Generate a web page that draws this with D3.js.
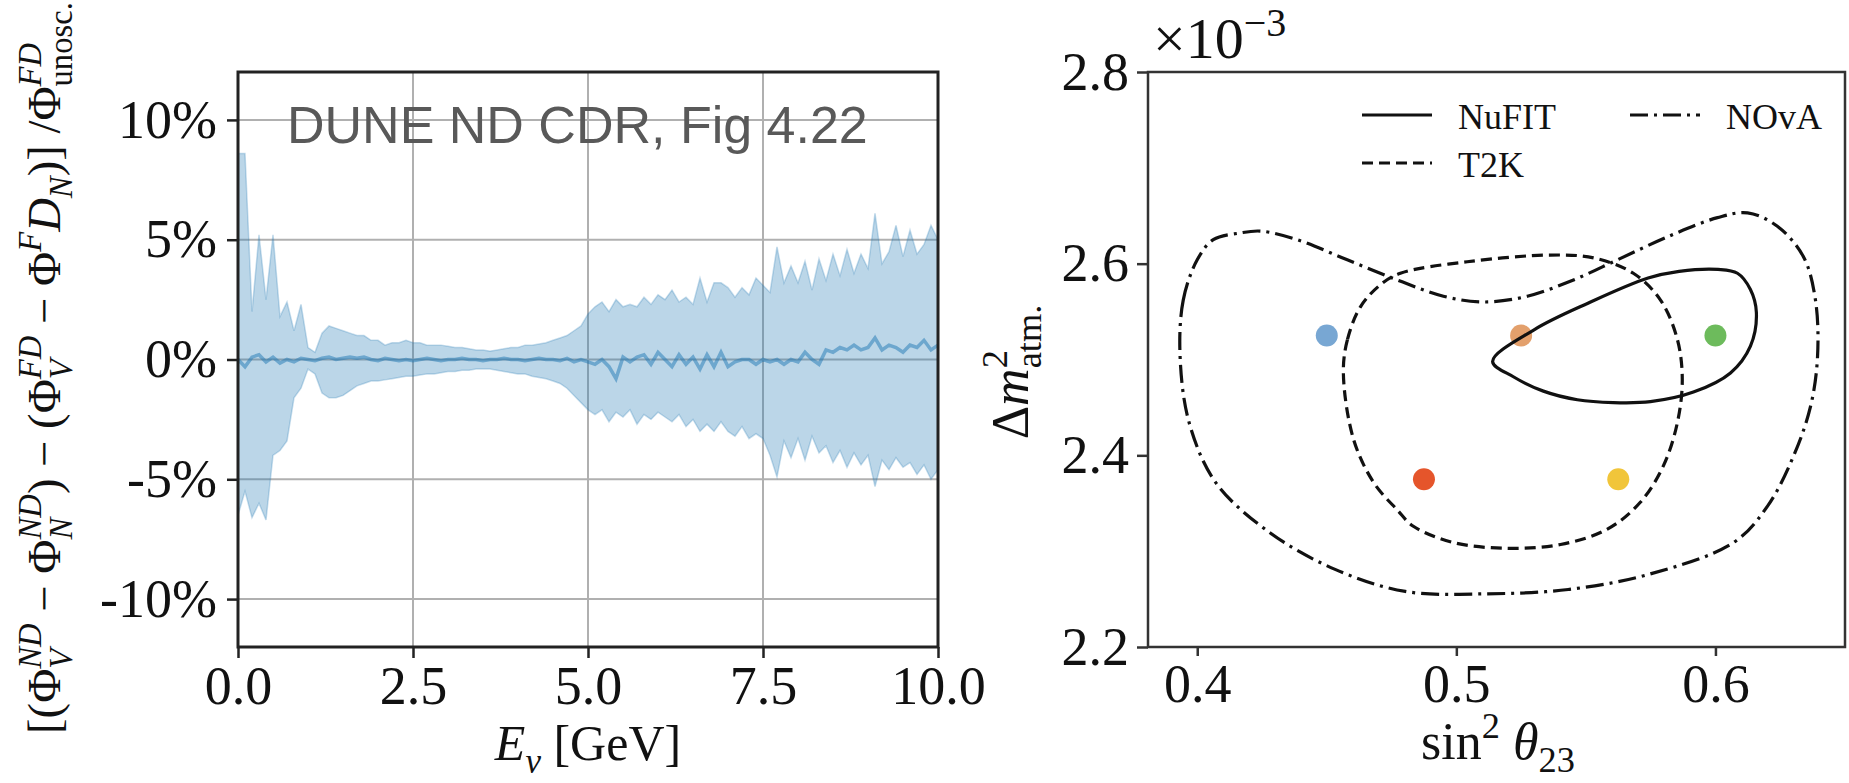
<!DOCTYPE html>
<html lang="en">
<head>
<meta charset="UTF-8">
<script src="https://d3js.org/d3.v7.min.js"></script>
<title>Flux shift and oscillation contours</title>
<style>
    body { margin: 0; padding: 0; background: white; }
    svg { display: block; }
    text { font-family: "Liberation Serif", "Times New Roman", serif; fill: #111; }
</style>
</head>
<body>
<svg id="fig" width="1849" height="783"></svg>
<script>
// ---- left panel data (percent) ----
const energy = [0.0,0.1,0.2,0.3,0.4,0.5,0.6,0.7,0.8,0.9,1.0,1.1,1.2,1.3,1.4,1.5,1.6,1.7,1.8,1.9,
    2.0,2.1,2.2,2.3,2.4,2.5,2.6,2.7,2.8,2.9,3.0,3.1,3.2,3.3,3.4,3.5,3.6,3.7,3.8,3.9,
    4.0,4.1,4.2,4.3,4.4,4.5,4.6,4.7,4.8,4.9,5.0,5.1,5.2,5.3,5.4,5.5,5.6,5.7,5.8,5.9,
    6.0,6.1,6.2,6.3,6.4,6.5,6.6,6.7,6.8,6.9,7.0,7.1,7.2,7.3,7.4,7.5,7.6,7.7,7.8,7.9,
    8.0,8.1,8.2,8.3,8.4,8.5,8.6,8.7,8.8,8.9,9.0,9.1,9.2,9.3,9.4,9.5,9.6,9.7,9.8,9.9,10.0];
const bandUpper = [8.6,8.6,2.0,5.2,2.5,5.2,1.8,2.4,1.2,2.3,0.5,0.3,1.1,1.4,1.3,1.2,1.1,1.0,1.0,0.8,
    0.8,0.6,0.7,0.7,0.8,0.7,0.7,0.6,0.6,0.6,0.55,0.5,0.5,0.45,0.4,0.4,0.35,0.4,0.45,0.5,
    0.5,0.6,0.6,0.65,0.7,0.8,0.9,1.0,1.2,1.4,1.9,2.2,2.4,2.0,2.5,2.2,2.3,2.2,2.6,2.3,
    2.7,2.5,2.9,2.4,2.6,2.3,3.4,2.4,3.2,3.2,3.0,2.6,3.0,2.7,3.4,3.1,2.8,4.7,3.2,3.9,
    3.2,4.1,2.9,4.2,3.3,4.4,3.5,4.6,3.6,4.4,3.8,6.1,4.0,4.5,5.6,4.3,5.4,4.4,4.8,5.6,5.0];
const bandLower = [-6.5,-5.5,-6.6,-6.0,-6.7,-4.0,-3.8,-3.4,-1.6,-1.2,-0.4,-0.6,-1.4,-1.6,-1.6,-1.5,-1.3,-1.1,-1.0,-0.9,
    -0.9,-0.85,-0.8,-0.75,-0.7,-0.7,-0.65,-0.6,-0.6,-0.55,-0.5,-0.5,-0.45,-0.45,-0.4,-0.4,-0.4,-0.45,-0.5,-0.55,
    -0.6,-0.6,-0.7,-0.75,-0.8,-0.9,-1.0,-1.2,-1.5,-1.8,-2.1,-2.3,-2.1,-2.6,-2.2,-2.4,-2.1,-2.7,-2.3,-2.5,
    -2.2,-2.4,-2.6,-2.3,-2.8,-2.5,-3.0,-2.7,-3.0,-2.6,-3.0,-3.2,-2.8,-3.3,-3.1,-3.3,-4.0,-4.9,-3.4,-4.1,
    -3.3,-4.2,-3.2,-3.9,-3.6,-4.3,-3.8,-4.5,-3.9,-4.4,-4.0,-5.3,-4.2,-4.6,-4.1,-4.5,-4.3,-4.8,-4.4,-5.0,-4.6];
const meanShift = [0.0,-0.3,0.1,0.2,-0.1,0.1,-0.15,0.0,-0.1,0.05,0.0,-0.05,0.05,0.1,0.0,0.05,0.1,0.05,0.1,0.0,
    -0.05,0.05,0.0,-0.05,0.0,-0.05,0.0,0.05,0.0,-0.05,0.0,0.0,0.05,0.0,0.0,-0.05,0.0,0.0,0.05,0.0,
    0.0,-0.05,0.0,0.05,0.0,0.0,-0.05,0.05,-0.1,0.0,-0.1,-0.2,0.0,-0.3,-0.8,0.1,-0.1,0.1,0.2,-0.2,
    0.3,0.0,-0.3,0.2,-0.2,0.1,-0.4,0.2,-0.3,0.3,-0.3,-0.1,0.0,0.0,-0.2,0.0,-0.1,0.0,-0.2,0.0,
    -0.1,0.3,0.0,-0.2,0.4,0.3,0.5,0.4,0.6,0.4,0.5,0.9,0.4,0.6,0.5,0.3,0.6,0.5,0.8,0.4,0.6];
const leftXTicks = [0, 2.5, 5, 7.5, 10];
const leftYTicks = [-10, -5, 0, 5, 10];

// ---- right panel data (sin^2 theta23, dm2 in 1e-3 eV^2) ----
const nufitContour = [[0.514,2.498],[0.530,2.531],[0.551,2.559],[0.574,2.585],[0.586,2.592],[0.601,2.594],
    [0.6085,2.590],[0.6135,2.573],[0.6158,2.549],[0.6135,2.514],[0.6058,2.486],[0.5915,2.466],[0.5749,2.456],
    [0.5606,2.455],[0.5467,2.458],[0.5336,2.467],[0.522,2.482]];
const t2kContour = [[0.4564,2.486],[0.458,2.521],[0.463,2.555],[0.4707,2.578],[0.4784,2.590],[0.5042,2.602],
    [0.5363,2.609],[0.553,2.606],[0.5683,2.590],[0.5788,2.562],[0.5853,2.521],[0.5872,2.479],[0.5853,2.434],
    [0.5799,2.389],[0.571,2.351],[0.5583,2.323],[0.5402,2.307],[0.5197,2.303],[0.4988,2.309],[0.4834,2.326],
    [0.4772,2.343],[0.468,2.372],[0.4603,2.417]];
const novaContour = [[0.3934,2.502],[0.3946,2.562],[0.400,2.604],[0.4062,2.625],[0.4166,2.632],[0.4243,2.634],
    [0.4386,2.625],[0.4579,2.604],[0.4772,2.583],[0.495,2.566],[0.5104,2.560],[0.5274,2.566],[0.5452,2.583],
    [0.5622,2.604],[0.5815,2.628],[0.6008,2.648],[0.6124,2.653],[0.6239,2.639],[0.634,2.607],[0.6386,2.562],
    [0.6394,2.503],[0.6367,2.451],[0.6301,2.399],[0.6201,2.347],[0.607,2.309],[0.5745,2.276],[0.5432,2.260],
    [0.5118,2.2555],[0.4803,2.258],[0.4532,2.281],[0.4282,2.319],[0.4073,2.371],[0.397,2.433]];
const pointX = [0.45, 0.525, 0.6, 0.4875, 0.5625];
const pointY = [2.525, 2.525, 2.525, 2.375, 2.375];
const pointColors = ["#78a7d3", "#e3a06c", "#6dbb5c", "#e5552b", "#f1c53a"];
const rightXTicks = [0.4, 0.5, 0.6];
const rightYTicks = [2.2, 2.4, 2.6, 2.8];
const legendItems = [
    {label: "NuFIT", dash: null, col: 0, row: 0},
    {label: "NOvA", dash: "18,6,3,6", col: 1, row: 0},
    {label: "T2K", dash: "11,6", col: 0, row: 1}
];

const svg = d3.select("#fig");
const spine = "#222";

// lays out a small math expression from pieces: {t, it, sup, sub, supIt, subIt}
function mathLabel(parent, parts, size) {
    const g = parent.append("g");
    let x = 0;
    parts.forEach(p => {
        if (p.t) {
            const el = g.append("text").attr("x", x).attr("y", 0)
                .style("font-size", size + "px")
                .style("font-style", p.it ? "italic" : "normal")
                .text(p.t);
            x += el.node().getComputedTextLength();
        }
        let w = 0;
        if (p.sup) {
            const el = g.append("text").attr("x", x).attr("y", -size * 0.4)
                .style("font-size", size * 0.7 + "px")
                .style("font-style", p.supIt === false ? "normal" : "italic")
                .text(p.sup);
            w = Math.max(w, el.node().getComputedTextLength());
        }
        if (p.sub) {
            const el = g.append("text").attr("x", x).attr("y", size * 0.25)
                .style("font-size", size * 0.7 + "px")
                .style("font-style", p.subIt === false ? "normal" : "italic")
                .text(p.sub);
            w = Math.max(w, el.node().getComputedTextLength());
        }
        x += w;
    });
    g.selectAll("text").attr("x", function() { return +d3.select(this).attr("x") - x / 2; });
    return {g: g, width: x};
}

// ================= left panel =================
const xL = d3.scaleLinear().domain([0, 10]).range([238, 938]);
const yL = d3.scaleLinear().domain([-12, 12]).range([647, 72]);

// grid
svg.append("g").selectAll("line.v").data(leftXTicks).join("line")
    .attr("x1", d => xL(d)).attr("x2", d => xL(d))
    .attr("y1", yL.range()[1]).attr("y2", yL.range()[0])
    .attr("stroke", "#b0b0b0").attr("stroke-width", 2);
svg.append("g").selectAll("line.h").data(leftYTicks).join("line")
    .attr("x1", xL.range()[0]).attr("x2", xL.range()[1])
    .attr("y1", d => yL(d)).attr("y2", d => yL(d))
    .attr("stroke", "#b0b0b0").attr("stroke-width", 2);

const band = energy.map((e, i) => ({e: e, lo: bandLower[i], hi: bandUpper[i], m: meanShift[i]}));
svg.append("path").datum(band)
    .attr("d", d3.area().x(d => xL(d.e)).y0(d => yL(d.lo)).y1(d => yL(d.hi)))
    .attr("fill", "#1f77b4").attr("fill-opacity", 0.3)
    .attr("stroke", "#1f77b4").attr("stroke-opacity", 0.25).attr("stroke-width", 1.5);
svg.append("path").datum(band)
    .attr("d", d3.line().x(d => xL(d.e)).y(d => yL(d.m)))
    .attr("fill", "none").attr("stroke", "#1f77b4").attr("stroke-opacity", 0.5).attr("stroke-width", 3.5);

svg.append("text").attr("x", 287).attr("y", 143)
    .style("font-family", "'Liberation Sans', Arial, sans-serif")
    .style("font-size", "52px").style("fill", "#595959")
    .text("DUNE ND CDR, Fig 4.22");

// frame
svg.append("rect").attr("x", 238).attr("y", 72).attr("width", 700).attr("height", 575)
    .attr("fill", "none").attr("stroke", spine).attr("stroke-width", 3);

const axL = svg.append("g").attr("transform", "translate(0,647)")
    .call(d3.axisBottom(xL).tickValues(leftXTicks).tickFormat(d3.format(".1f")).tickSize(11).tickPadding(8));
const ayL = svg.append("g").attr("transform", "translate(238,0)")
    .call(d3.axisLeft(yL).tickValues(leftYTicks).tickFormat(d => d + "%").tickSize(11).tickPadding(10));

[axL, ayL].forEach(a => {
    a.select(".domain").remove();
    a.selectAll("line").attr("stroke", spine).attr("stroke-width", 2.5);
    a.selectAll("text").style("font-size", "54px").style("font-family", "'Liberation Serif', serif").attr("fill", "#111");
});

// axis labels
const exLab = mathLabel(svg, [{t: "E", it: true}, {sub: "ν"}, {t: "\u00a0[GeV]"}], 50);
exLab.g.attr("transform", "translate(588,760)");

const leftYParts = [
    {t: "[(Φ"}, {sup: "ND", sub: "V"}, {t: "\u00a0−\u00a0Φ"}, {sup: "ND", sub: "N"},
    {t: ")\u00a0−\u00a0(Φ"}, {sup: "FD", sub: "V"}, {t: "\u00a0−\u00a0Φ"}, {sup: "F"},
    {t: "D", it: true}, {sub: "N"}, {t: ")]\u00a0/Φ"}, {sup: "FD", sub: "unosc.", subIt: false}
];
let lyLab = mathLabel(svg, leftYParts, 46);
const fit = 46 * 732 / lyLab.width;
lyLab.g.remove();
lyLab = mathLabel(svg, leftYParts, fit);
lyLab.g.attr("transform", "translate(60,368) rotate(-90)");

// ================= right panel =================
const xR = d3.scaleLinear().domain([0.381, 0.65]).range([1148, 1845]);
const yR = d3.scaleLinear().domain([2.2, 2.8]).range([647, 72]);

const contourLine = d3.line().x(d => xR(d[0])).y(d => yR(d[1])).curve(d3.curveCatmullRomClosed.alpha(0.5));
const contours = [
    {pts: novaContour, dash: "18,6,3,6"},
    {pts: t2kContour, dash: "11,6"},
    {pts: nufitContour, dash: null}
];

svg.append("g").selectAll("circle").data(pointX).join("circle")
    .attr("cx", d => xR(d)).attr("cy", (d, i) => yR(pointY[i]))
    .attr("r", 11).attr("fill", (d, i) => pointColors[i]);

svg.append("g").selectAll("path").data(contours).join("path")
    .attr("d", d => contourLine(d.pts))
    .attr("fill", "none").attr("stroke", "#111").attr("stroke-width", 3.2)
    .attr("stroke-dasharray", d => d.dash);

// legend
const leg = svg.append("g");
legendItems.forEach(it => {
    const x0 = 1362 + it.col * 268;
    const y0 = 115 + it.row * 48;
    leg.append("line").attr("x1", x0).attr("x2", x0 + 70).attr("y1", y0).attr("y2", y0)
        .attr("stroke", "#111").attr("stroke-width", 3.2).attr("stroke-dasharray", it.dash);
    leg.append("text").attr("x", x0 + 96).attr("y", y0 + 14)
        .style("font-size", "36px").text(it.label);
});

svg.append("rect").attr("x", 1148).attr("y", 72).attr("width", 697).attr("height", 575)
    .attr("fill", "none").attr("stroke", "#333").attr("stroke-width", 2.5);

const axR = svg.append("g").attr("transform", "translate(0,647)")
    .call(d3.axisBottom(xR).tickValues(rightXTicks).tickFormat(d3.format(".1f")).tickSize(9).tickPadding(8));
const ayR = svg.append("g").attr("transform", "translate(1148,0)")
    .call(d3.axisLeft(yR).tickValues(rightYTicks).tickFormat(d3.format(".1f")).tickSize(11).tickPadding(8));
[axR, ayR].forEach(a => {
    a.select(".domain").remove();
    a.selectAll("line").attr("stroke", "#333").attr("stroke-width", 2.5);
    a.selectAll("text").style("font-size", "54px").style("font-family", "'Liberation Serif', serif").attr("fill", "#111");
});

// offset text
const off = svg.append("text").attr("x", 1153).attr("y", 58).style("font-size", "58px");
off.append("tspan").text("×10");
off.append("tspan").attr("dy", -22).style("font-size", "40px").text("−3");

const sinLab = mathLabel(svg, [{t: "sin"}, {sup: "2", supIt: false}, {t: "\u00a0"}, {t: "θ", it: true}, {sub: "23", subIt: false}], 52);
sinLab.g.attr("transform", "translate(1498,759)");

const dmLab = mathLabel(svg, [{t: "Δ"}, {t: "m", it: true}, {sup: "2", supIt: false, sub: "atm.", subIt: false}], 52);
dmLab.g.attr("transform", "translate(1028,372) rotate(-90)");
</script>
</body>
</html>
